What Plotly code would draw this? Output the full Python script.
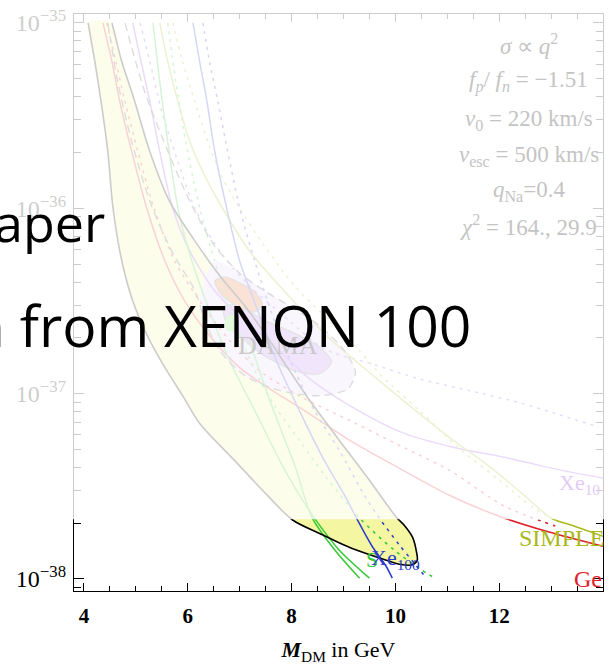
import math
import plotly.graph_objects as go

# ---------------- allowed region (yellow, black contour) ----------------
region_mass = [4.08, 4.21, 4.33, 4.46, 4.56, 4.73, 4.94, 5.23, 5.54, 5.90, 6.23, 6.90, 7.44,
               8.02, 8.54, 9.12, 9.69, 10.08, 10.31, 10.42, 10.40, 10.33, 10.17, 10.02,
               9.50, 8.92, 8.35, 7.96, 7.58, 7.10, 6.62, 6.14, 5.65, 5.27, 4.98, 4.73, 4.54]
region_sigma = [1.0e-35, 6.17e-36, 3.76e-36, 2.02e-36, 1.0e-36, 5.19e-37, 3.16e-37, 2.03e-37,
                1.41e-37, 9.75e-38, 6.9e-38, 4.36e-38, 3.01e-38, 2.08e-38, 1.76e-38, 1.48e-38,
                1.30e-38, 1.20e-38, 1.19e-38, 1.26e-38, 1.43e-38, 1.68e-38, 1.95e-38, 2.15e-38,
                3.41e-38, 5.59e-38, 9.17e-38, 1.33e-37, 1.93e-37, 2.97e-37, 4.31e-37, 6.65e-37,
                1.09e-36, 2.02e-36, 3.76e-36, 6.17e-36, 1.0e-35]

# ---------------- DAMA regions ----------------
dama_outer_mass = [4.46, 4.65, 4.92, 5.27, 5.69, 6.14, 6.33, 6.62, 7.10, 7.77, 8.54, 9.08,
                   9.23, 9.02, 8.54, 7.96, 7.48, 7.00, 6.52, 6.04, 5.62, 5.17, 4.79]
dama_outer_sigma = [1.0e-35, 4.82e-36, 2.29e-36, 1.09e-36, 5.87e-37, 3.58e-37, 2.47e-37,
                    1.70e-37, 1.25e-37, 1.04e-37, 9.75e-38, 1.06e-37, 1.30e-37, 1.70e-37,
                    2.32e-37, 2.97e-37, 3.58e-37, 4.47e-37, 6.25e-37, 1.09e-36, 2.02e-36,
                    4.26e-36, 1.0e-35]

dama_halo_mass = [6.23, 6.33, 6.62, 7.10, 7.77, 8.54, 9.08, 9.23, 9.02, 8.54, 7.96, 7.48, 7.00, 6.52]
dama_halo_sigma = [3.16e-37, 2.47e-37, 1.70e-37, 1.25e-37, 1.04e-37, 9.75e-38, 1.06e-37,
                   1.30e-37, 1.70e-37, 2.32e-37, 2.97e-37, 3.58e-37, 4.47e-37, 5.19e-37]

dama_core_mass = [6.71, 6.71, 7.00, 7.48, 8.06, 8.54, 8.77, 8.50, 7.96, 7.42, 7.00]
dama_core_sigma = [2.97e-37, 2.53e-37, 2.05e-37, 1.60e-37, 1.33e-37, 1.28e-37, 1.48e-37,
                   1.81e-37, 2.18e-37, 2.53e-37, 2.97e-37]

dama_na_mass = [6.52, 6.65, 6.96, 7.29, 7.44, 7.29, 7.00, 6.71]
dama_na_sigma = [4.05e-37, 3.40e-37, 2.97e-37, 2.76e-37, 3.01e-37, 3.54e-37, 3.96e-37, 4.26e-37]

dama_spot_mass = [6.71, 6.77, 6.885, 6.94, 6.885, 6.77]
dama_spot_sigma = [2.41e-37, 2.63e-37, 2.63e-37, 2.41e-37, 2.18e-37, 2.18e-37]

# ---------------- exclusion limits ----------------
ge_mass = [4.365, 4.54, 4.69, 4.92, 5.21, 5.56, 5.94, 6.42, 7.00, 7.58, 8.25, 9.12,
           10.08, 11.04, 12.0, 12.96, 14.0]
ge_sigma = [1.0e-35, 6.17e-36, 3.76e-36, 2.02e-36, 1.0e-36, 5.19e-37, 3.16e-37, 2.05e-37,
            1.38e-37, 1.06e-37, 8.10e-38, 5.59e-38, 3.95e-38, 2.83e-38, 2.18e-38, 1.79e-38, 1.50e-38]

ge_alt_mass = [4.44, 4.615, 4.79, 5.04, 5.35, 5.75, 6.23, 6.81, 7.38, 8.25, 9.12, 10.08,
               11.04, 12.10, 13.08]
ge_alt_sigma = [1.0e-35, 6.17e-36, 3.76e-36, 2.02e-36, 1.0e-36, 5.19e-37, 3.16e-37, 1.93e-37,
                1.33e-37, 9.4e-38, 7.16e-38, 5.25e-38, 3.86e-38, 2.47e-38, 1.93e-38]

xe10_mass = [4.94, 5.10, 5.27, 5.46, 5.71, 6.04, 6.52, 7.10, 7.77, 8.35, 9.12, 10.17,
             11.13, 12.10, 12.77, 13.38, 14.0]
xe10_sigma = [1.0e-35, 6.17e-36, 3.76e-36, 2.02e-36, 1.0e-36, 5.87e-37, 3.58e-37, 2.47e-37,
              1.70e-37, 1.20e-37, 8.62e-38, 6.1e-38, 5.12e-38, 4.53e-38, 4.10e-38, 3.77e-38, 3.5e-38]

xe10_alt_mass = [5.08, 5.27, 5.50, 5.81, 6.135, 6.615, 7.19, 7.96, 8.63, 9.50, 10.46,
                 11.42, 12.38, 13.15, 13.92]
xe10_alt_sigma = [1.0e-35, 6.17e-36, 3.32e-36, 1.79e-36, 1.0e-36, 5.87e-37, 3.81e-37,
                  2.47e-37, 1.74e-37, 1.46e-37, 1.20e-37, 1.04e-37, 8.95e-38, 7.7e-38, 6.6e-38]

simple_mass = [5.46, 5.615, 5.81, 6.04, 6.33, 6.67, 7.19, 7.77, 8.25, 8.69, 9.50, 10.27,
               11.04, 11.81, 12.48, 13.0, 13.44, 14.0]
simple_sigma = [1.0e-35, 6.17e-36, 3.76e-36, 2.29e-36, 1.49e-36, 1.0e-36, 5.87e-37, 3.81e-37,
                2.73e-37, 2.03e-37, 1.30e-37, 8.62e-38, 5.80e-38, 4.05e-38, 2.83e-38, 2.13e-38,
                1.93e-38, 1.70e-38]

simple_alt_mass = [5.71, 5.90, 6.135, 6.385, 6.65, 7.0, 7.48, 8.06, 8.73, 9.31, 9.73,
                   10.46, 11.23, 12.0, 12.67, 13.12]
simple_alt_sigma = [1.0e-35, 6.17e-36, 3.76e-36, 2.29e-36, 1.49e-36, 1.0e-36, 6.25e-37,
                    3.81e-37, 2.47e-37, 1.70e-37, 1.25e-37, 8.10e-38, 5.06e-38, 3.41e-38,
                    2.41e-38, 2.05e-38]

si_mass = [5.33, 5.46, 5.615, 5.81, 6.08, 6.42, 6.81, 7.29, 7.77, 8.15, 8.44, 8.92, 9.50]
si_sigma = [1.0e-35, 4.82e-36, 2.29e-36, 1.0e-36, 5.19e-37, 2.79e-37, 1.50e-37, 8.10e-38,
            4.36e-38, 2.83e-38, 2.13e-38, 1.43e-38, 1.01e-38]

si_b_mass = [7.19, 7.58, 8.06, 8.40, 8.88, 9.31]
si_b_sigma = [1.93e-37, 9.17e-38, 4.10e-38, 2.13e-38, 1.38e-38, 1.01e-38]

si_alt_mass = [5.615, 5.77, 5.96, 6.23, 6.52, 6.90, 7.29, 7.67, 8.15, 8.67, 9.31, 9.98,
               10.46, 10.79]
si_alt_sigma = [1.0e-35, 4.82e-36, 2.29e-36, 1.0e-36, 5.19e-37, 2.47e-37, 1.33e-37, 8.62e-38,
                5.59e-38, 3.53e-38, 2.13e-38, 1.43e-38, 1.14e-38, 9.98e-39]

xe100_mass = [6.10, 6.23, 6.37, 6.52, 6.75, 7.0, 7.35, 7.71, 8.15, 8.63, 9.02, 9.25, 9.54,
              9.83, 9.94]
xe100_sigma = [1.0e-35, 6.17e-36, 3.76e-36, 2.02e-36, 1.0e-36, 5.19e-37, 2.79e-37, 1.50e-37,
               8.10e-38, 4.36e-38, 2.83e-38, 2.13e-38, 1.52e-38, 1.16e-38, 1.01e-38]

xe100_alt_mass = [6.29, 6.42, 6.58, 6.77, 7.0, 7.29, 7.67, 8.06, 8.44, 8.92, 9.40, 9.69,
                  10.08, 10.37, 10.60]
xe100_alt_sigma = [1.0e-35, 6.17e-36, 3.76e-36, 2.02e-36, 1.0e-36, 5.19e-37, 2.47e-37,
                   1.33e-37, 8.10e-38, 4.94e-38, 2.83e-38, 2.13e-38, 1.52e-38, 1.21e-38, 1.01e-38]

# fit assumptions printed in the upper right corner
param_lines = [
    "<i>σ</i> ∝ <i>q</i><sup>2</sup>",
    "<i>f<sub>p</sub></i>/ <i>f<sub>n</sub></i> = −1.51",
    "<i>v</i><sub>0</sub> = 220 km/s",
    "<i>v</i><sub>esc</sub> = 500 km/s",
    "<i>q</i><sub>Na</sub>=0.4",
    "<i>χ</i><sup>2</sup> = 164., 29.9",
]

x_major = [4, 6, 8, 10, 12, 14]
y_decades = [1e-38, 1e-37, 1e-36, 1e-35]
y_decade_text = ["10<sup>−38</sup>", "10<sup>−37</sup>", "10<sup>−36</sup>", "10<sup>−35</sup>"]

RED = "#e0202a"
PURPLE = "#9c4ce6"
OLIVE = "#a9b81c"
GREEN = "#35c935"
BLUE = "#2a3ccc"

fig = go.Figure()


def add_area(mass, sigma, fill, line_color="rgba(0,0,0,0)", width=0.0, smooth=0.8):
    fig.add_trace(go.Scatter(
        x=mass + mass[:1], y=sigma + sigma[:1], mode="lines", fill="toself",
        fillcolor=fill,
        line=dict(color=line_color, width=width, shape="spline", smoothing=smooth),
        hoverinfo="skip", showlegend=False))


def add_curve(mass, sigma, color, dash="solid", width=1.5, smooth=0.8):
    fig.add_trace(go.Scatter(
        x=mass, y=sigma, mode="lines",
        line=dict(color=color, width=width, dash=dash, shape="spline", smoothing=smooth),
        hoverinfo="skip", showlegend=False))


# filled regions
add_area(region_mass, region_sigma, "#f4f6a2")
add_area(dama_halo_mass, dama_halo_sigma, "#e0cff6")
add_area(dama_core_mass, dama_core_sigma, "#b27cec", "#777777", 1.2)
add_area(dama_na_mass, dama_na_sigma, "#e8703a", "#777777", 1.2)
add_area(dama_spot_mass, dama_spot_sigma, "#6ee04a")

# exclusion limits
DOT = "3px,5px"
add_curve(ge_mass, ge_sigma, RED)
add_curve(ge_alt_mass, ge_alt_sigma, RED, DOT)
add_curve(xe10_mass, xe10_sigma, PURPLE)
add_curve(xe10_alt_mass, xe10_alt_sigma, PURPLE, DOT)
add_curve(simple_mass, simple_sigma, OLIVE)
add_curve(simple_alt_mass, simple_alt_sigma, OLIVE, DOT)
add_curve(si_mass, si_sigma, GREEN)
add_curve(si_b_mass, si_b_sigma, GREEN)
add_curve(si_alt_mass, si_alt_sigma, GREEN, DOT)
add_curve(xe100_mass, xe100_sigma, BLUE)
add_curve(xe100_alt_mass, xe100_alt_sigma, BLUE, DOT)

# contours on top
add_curve(dama_outer_mass, dama_outer_sigma, "#555555", "8px,5px", 1.4)
add_curve(region_mass, region_sigma, "black", width=1.6)

# ---- axes ----
y_minor = [k * d for d in (1e-39, 1e-38, 1e-37, 1e-36) for k in range(2, 10)]
y_minor = [v for v in y_minor if 8.6e-39 < v < 1.12e-35]

serif = "Liberation Serif"
fig.update_xaxes(
    range=[3.808, 14.0], tickvals=x_major, ticktext=[f"<b>{v}</b>" for v in x_major],
    ticks="inside", ticklen=8, tickwidth=1, tickcolor="black",
    minor=dict(tick0=4, dtick=0.5, ticks="inside", ticklen=5, tickwidth=1, tickcolor="black"),
    showline=True, linecolor="black", linewidth=1.3, mirror="allticks",
    showgrid=False, zeroline=False, ticklabelstandoff=6,
    tickfont=dict(family=serif, size=21, color="black"),
    title=dict(text="<b><i>M</i></b><sub>DM</sub> in GeV",
               font=dict(family=serif, size=22, color="black"), standoff=14),
)
fig.update_yaxes(
    type="log", range=[-38.065, -34.952], tickvals=y_decades, ticktext=y_decade_text,
    ticks="inside", ticklen=10, tickwidth=1, tickcolor="black",
    minor=dict(tickvals=y_minor, ticks="inside", ticklen=7, tickwidth=1, tickcolor="black"),
    showline=True, linecolor="black", linewidth=1.3, mirror="allticks",
    showgrid=False, zeroline=False, ticklabelstandoff=2,
    tickfont=dict(family=serif, size=24, color="black"),
)

# ---- curve labels ----
labels = [
    (12.35, 1.66e-38, "SIMPLE", OLIVE, 24),
    (13.40, 1.0e-38, "Ge", RED, 24),
    (9.40, 1.28e-38, "S", GREEN, 22),
    (9.50, 1.28e-38, "Xe<sub>100</sub>", BLUE, 22),
]
for mx, sy, txt, col, size in labels:
    fig.add_annotation(x=mx, y=math.log10(sy), text=txt, showarrow=False,
                       xanchor="left", yanchor="middle",
                       font=dict(family=serif, size=size, color=col))

# labels inside the washed-out part are drawn in their pale tones
fig.add_annotation(x=13.12, y=math.log10(3.24e-38), text="Xe<sub>10</sub>", showarrow=False,
                   xanchor="left", yanchor="middle",
                   font=dict(family=serif, size=22, color="#e2ccf6"))
fig.add_annotation(x=7.73, y=math.log10(1.81e-37), text="DAMA", showarrow=False,
                   xanchor="center", yanchor="middle",
                   font=dict(family=serif, size=26, color="#c9c9c9"))

param_y = [0.9465, 0.8826, 0.8169, 0.7547, 0.6926, 0.6339]
for txt, py in zip(param_lines, param_y):
    fig.add_annotation(xref="paper", yref="paper", x=0.86, y=py, text=txt, showarrow=False,
                       xanchor="center", yanchor="middle",
                       font=dict(family=serif, size=23, color="#c4c4c4"))

# white veil over the upper part of the page
fig.add_shape(type="rect", xref="paper", yref="paper", x0=-0.3, x1=1.3, y0=0.1244, y1=1.2,
              fillcolor="white", opacity=0.8, line=dict(width=0), layer="above")

# slide text laid over the chart
fig.add_annotation(xref="paper", yref="paper", x=-0.1547, y=0.6408, text="aper",
                   showarrow=False, xanchor="left", yanchor="middle",
                   font=dict(family="Open Sans", size=52, color="black"))
fig.add_annotation(xref="paper", yref="paper", x=-0.2000, y=0.4611, text="n from XENON 100",
                   showarrow=False, xanchor="left", yanchor="middle",
                   font=dict(family="Open Sans", size=57, color="black"))

fig.update_layout(
    width=610, height=672,
    margin=dict(l=74, r=6, t=12, b=81),
    paper_bgcolor="white", plot_bgcolor="white",
    font=dict(family=serif),
    showlegend=False,
)

fig.write_html("out.html")
